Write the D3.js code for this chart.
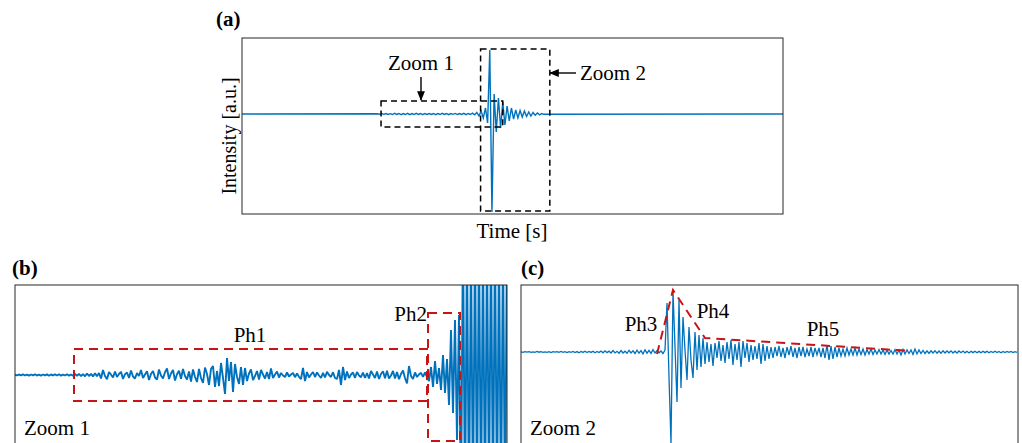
<!DOCTYPE html>
<html>
<head>
<meta charset="utf-8">
<script src="https://cdn.jsdelivr.net/npm/d3@7"></script>
<style>
  body { margin: 0; background: #fff; }
</style>
</head>
<body>
<svg id="fig" width="1022" height="443"></svg>
<script>
// ---- data (amplitudes in a.u.) ----

// (a) whole record, time in ms; flat outside the sampled window
var aSpan = [0, 1000]
var aT0 = 250, aDt = 4
var aAmp = [0.2,-0.3,0.4,-0.3,0.5,-0.4,0.3,-0.5,0.6,-0.4,0.5,-0.6,0.4,-0.5,0.7,-0.6,0.4,-0.5,0.6,-0.4,0.5,-0.6,0.5,-0.4,0.4,-0.5,
  0.5,-0.6,0.4,-0.5,0.6,-0.4,0.5,-0.6,0.4,-0.3,0.6,-0.5,0.4,-0.4,0.7,-0.6,0.5,-0.5,0.8,-0.9,
  1.5,-2,3,-4,6,-9,
  64,-98,20,-18,16,-14,12,-11,8,-7,6,-5,4,-4,3.5,-3,3,-2.5,2,-2,1.5,-1.2,1,-0.8,0.5,-0.3]
var zoom1Win = {t: [257, 482], amp: [-13, 13]}
var zoom2Win = {t: [441, 569], amp: [-97, 65]}

// (b) Zoom 1, uniform samples
var bAmp = [0.3,-0.4,0.5,-0.3,0.6,-0.5,0.4,-0.6,0.5,-0.4,0.7,-0.5,0.3,-0.6,0.5,-0.4,0.6,-0.7,0.5,-0.3,0.6,-0.5,0.8,-0.6,0.4,-0.5,0.7,-0.6,0.5,-0.8,
  1.0,-0.8,1.2,-1.1,0.9,-1.3,1.5,-1.0,1.2,-1.4,1.8,-1.2,2.0,
  -3.5,5.0,-1.0,-4.2,3.0,0.5,-2.5,3.5,
  -2.0,1.0,3.2,-4.0,0.8,2.5,-3.0,4.5,-1.5,-3.5,2.0,-1.0,5.0,-3.0,0.5,3.8,-5.0,1.0,4.0,-2.5,-4.5,5.5,-0.5,-3.5,2.8,6.5,-4.0,
  1.5,5.0,-5.5,0.8,4.2,-3.8,6.0,-1.0,-4.5,3.5,-6.5,5.5,-2.0,-7.0,6.0,
  -3.0,-8.0,7.5,1.0,-10.0,6.0,9.0,-12.0,
  4.0,-11.0,12.0,-3.0,-19.0,17.0,-6.0,13.0,-17.0,11.0,
  -2.0,-9.0,8.0,-10.0,7.0,
  -6.0,1.5,5.5,-5.0,-1.0,4.0,-4.5,5.0,0.5,-3.5,3.0,-4.0,
  6.5,-3.0,0.5,3.5,-2.5,
  2.0,-0.5,-2.0,2.5,-1.5,0.5,2.0,-2.2,1.5,-1.8,
  -4.0,7.0,-6.0,3.0,
  -2.5,0.5,3.0,-2.0,2.5,-0.5,-3.0,2.2,-2.5,3.2,0.0,-2.0,2.8,-3.0,
  -4.0,5.0,-10.0,8.0,-5.0,3.5,
  -3.0,0.5,2.5,-2.8,3.0,-0.5,-2.2,2.5,-3.0,2.0,
  -3.5,4.0,0.5,-3.0,3.5,-4.0,1.0,3.8,-3.2,
  4.2,-3.5,-0.5,4.0,-3.5,3.0,-4.2,1.0,4.5,-3.0,-8.5,9.0,-1.0,-4.0,
  2.5,-2.0,0.5,2.2,-1.8,2.5,-2.0,
  -6.0,8.0,-12.0,14.0,-9.0,7.0,
  -15.0,20.0,-18.0,16.0,
  -30.0,45.0,-38.0,
  55.0,-65.0,60.0,
  -140,150,-145,140,-150,138,-142,148,-140,150,-146,141,-150,145,-138,148,-142,150,-146,140,-148,142,-150,146]
var ph1Win = {i: [29.5, 206], amp: [-26, 26]}
var ph2Win = {i: [206.5, 222.5], amp: [-66, 62]}

// (c) Zoom 2, uniform samples
var cAmp = [0.2,-0.3,0.4,-0.2,0.3,-0.4,0.2,-0.3,0.5,-0.2,0.3,-0.4,0.2,-0.3,0.4,-0.5,0.3,-0.2,0.4,-0.3,
  0.5,-0.4,0.3,-0.6,0.4,-0.3,0.6,-0.5,0.4,-0.7,0.5,-0.4,0.7,-0.6,0.5,-0.4,0.8,-0.7,0.6,-0.5,
  0.9,-0.8,1.2,-0.6,0.8,-1.0,1.4,-0.9,0.7,-1.2,1.5,-1.0,0.8,-1.3,1.6,-0.9,1.2,-1.5,1.8,-1.1,
  1.4,-1.8,2.2,-1.2,1.6,-1.4,2.4,-1.0,1.2,-0.8,1.0,-1.5,2.0,
  49,-25,-92,61,5,-50,52,-36,35,2,-28,25,-8,-26,20,-18,17,-15,14,-12,10,
  -10,8,-14,9,-6,11,-9,7,-11,10,-7,12,-13,8,-8,10,-15,11,-6,9,-10,7,-8,6,-7,9,
  -12,8,-9,6,-7,5,-6,5,-4,6,-5,4,-6,5,-3,6,-5,4,-6,5,-4,5,-5,3,-4,5,-5,4,-3,4,
  -5,4,-6,7,-8,6,-7,5,-5,4,-4,3,-4,4,-3,3,-3,4,-3,3,-2.5,3,-3,2.5,-2,3,-2.5,2,-2,2.5,-2,
  2,-2.5,2,-2,1.5,-2,2.5,-2,2,-3,2.5,-2,2,-1.5,2,-2.5,3,-2,2,-1.5,
  1.5,-1.5,1.2,-1.5,1.2,-1,1.3,-1.2,1,-1.2,1.3,-1,1,-0.8,1.1,-1,0.8,-1,1,-0.7,
  0.9,-0.8,0.7,-0.9,0.8,-0.6,0.8,-0.7,0.6,-0.8,0.7,-0.6,0.8,-0.7,0.6,-0.5,0.7,-0.6,0.5,-0.7,
  0.6,-0.5,0.6,-0.4,0.5,-0.6,0.4,-0.3]
// phase envelope Ph3 / Ph4 / Ph5
var envIdx = [68, 76, 92, 195]
var envAmp = [-2, 62, 14, 1]

// ---- drawing ----
var blue = "#0072BD", red = "#C81414"
var serif = "'Liberation Serif', 'Times New Roman', 'DejaVu Serif', serif"
var svg = d3.select("#fig").style("font-family", serif)
svg.append("rect").attr("width", 1022).attr("height", 443).attr("fill", "#fff")

var defs = svg.append("defs")
defs.append("marker").attr("id", "head")
    .attr("viewBox", "0 0 10 10").attr("refX", 9).attr("refY", 5)
    .attr("markerWidth", 7).attr("markerHeight", 7).attr("orient", "auto")
  .append("path").attr("d", "M0,1 L10,5 L0,9 Z").attr("fill", "#000")

function clip(id, x, y, w, h) {
    defs.append("clipPath").attr("id", id)
      .append("rect").attr("x", x).attr("y", y).attr("width", w).attr("height", h)
}

function frame(x, y, w, h) {
    svg.append("rect").attr("x", x).attr("y", y).attr("width", w).attr("height", h)
       .attr("fill", "none").attr("stroke", "#262626").attr("stroke-width", 1)
}

function label(txt, x, y, opts) {
    opts = opts || {}
    var t = svg.append("text").attr("x", x).attr("y", y).text(txt)
       .attr("font-family", serif).style("font-family", serif)
       .style("font-size", (opts.size || 21) + "px").attr("fill", "#000")
    if (opts.bold) t.style("font-weight", "bold")
    if (opts.anchor) t.attr("text-anchor", opts.anchor)
    if (opts.rotate) t.attr("transform", "rotate(-90," + x + "," + y + ")")
    return t
}

function dashBox(x, y, win, kx, color, dash, width) {
    svg.append("rect")
       .attr("x", x(win[kx][0])).attr("y", y(win.amp[1]))
       .attr("width", x(win[kx][1]) - x(win[kx][0]))
       .attr("height", y(win.amp[0]) - y(win.amp[1]))
       .attr("fill", "none").attr("stroke", color)
       .attr("stroke-width", width).attr("stroke-dasharray", dash)
}

// (a)
var ax = d3.scaleLinear().domain(aSpan).range([242, 783])
var ay = d3.scaleLinear().domain([-100, 76]).range([214, 38])
var aPts = [[aSpan[0], 0]]
    .concat(aAmp.map(function (v, i) { return [aT0 + i * aDt, v] }))
    .concat([[aSpan[1], 0]])
clip("clipA", 242, 38, 541, 176)
svg.append("path").datum(aPts)
   .attr("clip-path", "url(#clipA)")
   .attr("fill", "none").attr("stroke", blue).attr("stroke-width", 1.4)
   .attr("d", d3.line().x(function (d) { return ax(d[0]) }).y(function (d) { return ay(d[1]) }))
frame(242, 38, 541, 176)
dashBox(ax, ay, zoom1Win, "t", "#000", "6,4", 1.5)
dashBox(ax, ay, zoom2Win, "t", "#000", "6,4", 1.5)

// annotations for (a)
label("(a)", 216, 26, {bold: true})
label("Zoom 1", 421, 70, {anchor: "middle"})
svg.append("line").attr("x1", 421).attr("y1", 77).attr("x2", 421).attr("y2", 100)
   .attr("stroke", "#000").attr("stroke-width", 1.4).attr("marker-end", "url(#head)")
label("Zoom 2", 580, 80)
svg.append("line").attr("x1", 576).attr("y1", 73).attr("x2", 550).attr("y2", 73)
   .attr("stroke", "#000").attr("stroke-width", 1.4).attr("marker-end", "url(#head)")
label("Time [s]", 512, 238, {anchor: "middle"})
label("Intensity [a.u.]", 236, 136, {anchor: "middle", rotate: true, size: 20})

// (b)
var bx = d3.scaleLinear().domain([0, bAmp.length - 1]).range([15, 507])
var by = d3.scaleLinear().domain([-71, 90]).range([446, 285])
clip("clipB", 15, 285, 492, 161)
svg.append("path").datum(bAmp)
   .attr("clip-path", "url(#clipB)")
   .attr("fill", "none").attr("stroke", blue).attr("stroke-width", 1.9)
   .attr("stroke-linejoin", "bevel")
   .attr("d", d3.line().x(function (d, i) { return bx(i) }).y(function (d) { return by(d) }))
frame(15, 285, 492, 200)
dashBox(bx, by, ph1Win, "i", red, "9,6", 2)
dashBox(bx, by, ph2Win, "i", red, "9,6", 2)
label("(b)", 12, 275, {bold: true})
label("Ph1", 250, 342, {anchor: "middle"})
label("Ph2", 427, 321, {anchor: "end"})
label("Zoom 1", 24, 435)

// (c)
var cx = d3.scaleLinear().domain([0, cAmp.length - 1]).range([521, 1017])
var cy = d3.scaleLinear().domain([-94, 67]).range([446, 285])
clip("clipC", 521, 285, 497, 161)
svg.append("path").datum(cAmp)
   .attr("clip-path", "url(#clipC)")
   .attr("fill", "none").attr("stroke", blue).attr("stroke-width", 1.3)
   .attr("d", d3.line().x(function (d, i) { return cx(i) }).y(function (d) { return cy(d) }))
svg.append("path").datum(envIdx)
   .attr("fill", "none").attr("stroke", red).attr("stroke-width", 2)
   .attr("stroke-dasharray", "9,6")
   .attr("d", d3.line().x(function (d) { return cx(d) }).y(function (d, i) { return cy(envAmp[i]) }))
frame(521, 285, 497, 200)
label("(c)", 521, 275, {bold: true})
label("Ph3", 641, 331, {anchor: "middle"})
label("Ph4", 713, 318, {anchor: "middle"})
label("Ph5", 823, 336, {anchor: "middle"})
label("Zoom 2", 530, 435)
</script>
</body>
</html>
